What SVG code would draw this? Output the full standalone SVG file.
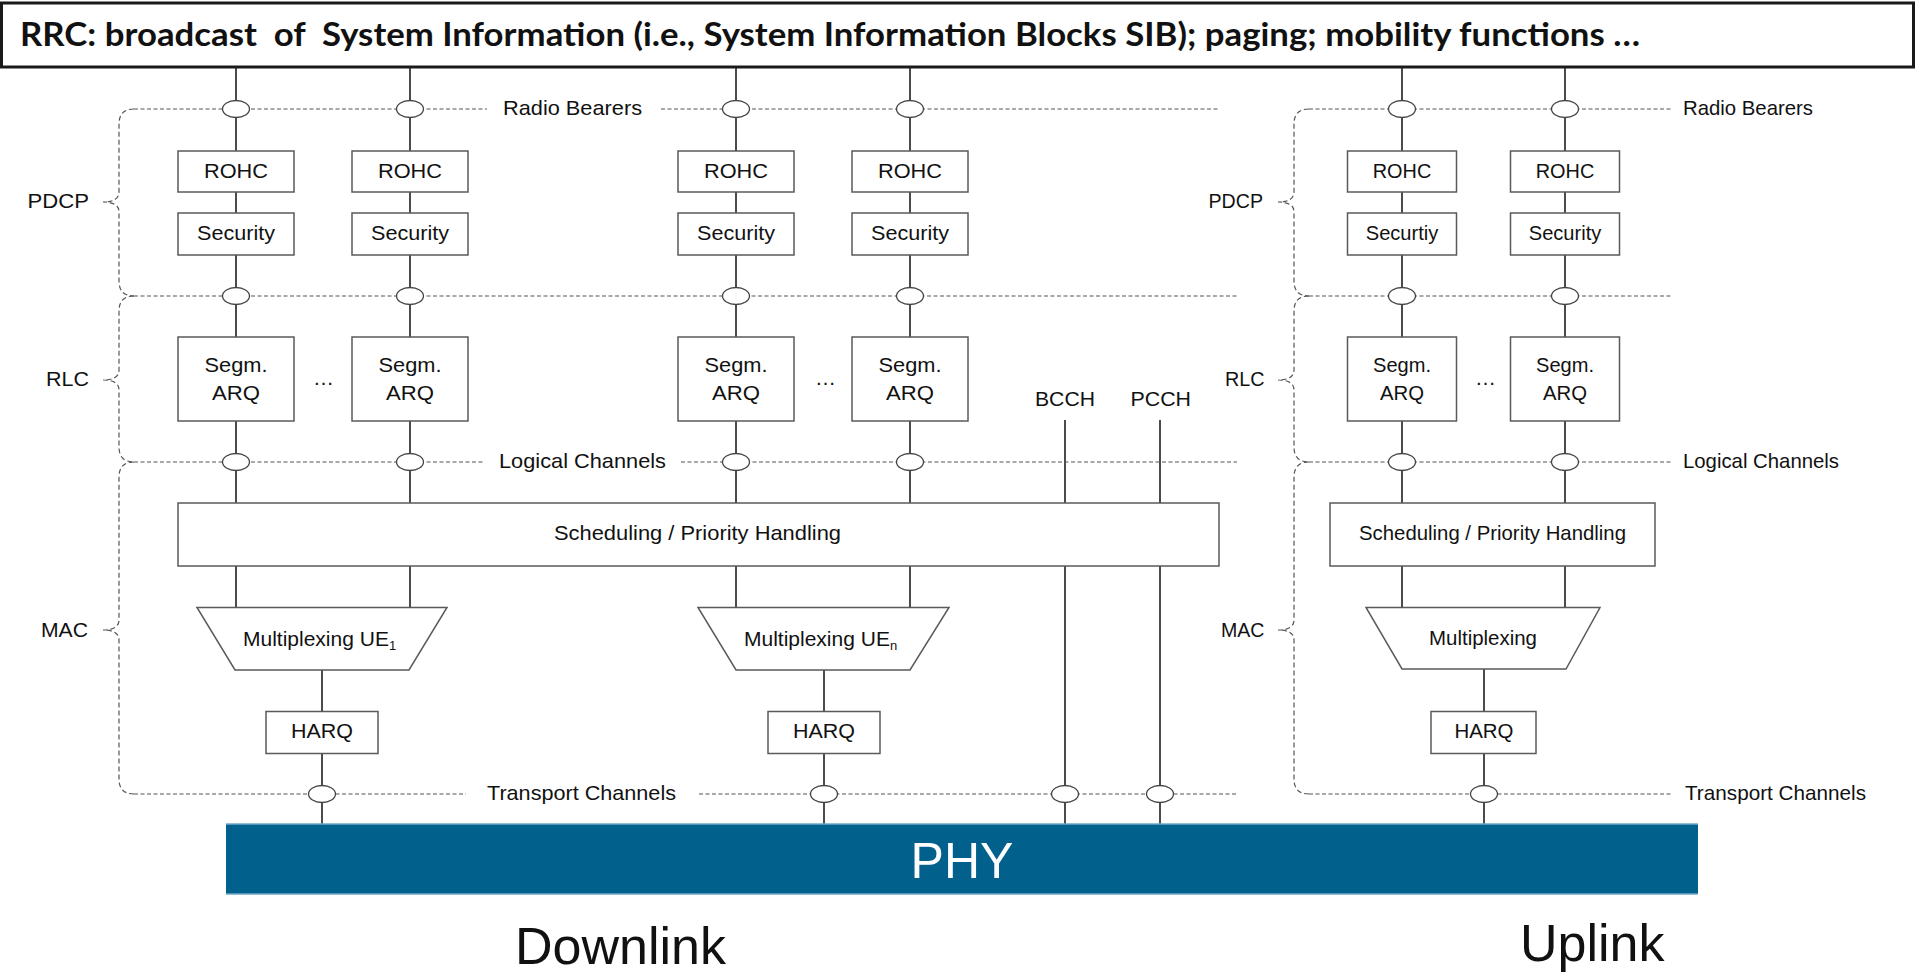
<svg xmlns="http://www.w3.org/2000/svg" width="1915" height="976" viewBox="0 0 1915 976">
<defs>
<style>
.box{fill:#fff;stroke:#5a5a5a;stroke-width:1.5}
.wire{stroke:#1e1e1e;stroke-width:1.6;fill:none}
.dash{stroke:#555;stroke-width:1.2;stroke-dasharray:4 2.5;fill:none}
.brace{stroke:#555;stroke-width:1.2;stroke-dasharray:5 3;fill:none}
.sap{fill:#fff;stroke:#444;stroke-width:1.3}
.t{font-family:"Liberation Sans",Arial,sans-serif;font-size:21px;fill:#111}
.big{font-family:"Liberation Sans",Arial,sans-serif;font-size:52px;fill:#111}
</style>
</defs>
<rect width="1915" height="976" fill="#fff"/>

<g id="rrc">
<rect x="1.5" y="3" width="1912" height="64" fill="#fff" stroke="#1a1a1a" stroke-width="3"/>
<text x="20" y="46" font-family="Lato, 'Open Sans', sans-serif" font-weight="bold" font-size="32" fill="#111" textLength="1620" lengthAdjust="spacingAndGlyphs" style="white-space:pre">RRC: broadcast  of  System Information (i.e., System Information Blocks SIB); paging; mobility functions …</text>
</g>

<g id="connectors">
<line class="wire" x1="236" y1="67" x2="236" y2="608"/>
<line class="wire" x1="410" y1="67" x2="410" y2="608"/>
<line class="wire" x1="736" y1="67" x2="736" y2="608"/>
<line class="wire" x1="910" y1="67" x2="910" y2="608"/>
<line class="wire" x1="1402" y1="67" x2="1402" y2="608"/>
<line class="wire" x1="1565" y1="67" x2="1565" y2="608"/>
<line class="wire" x1="322" y1="670" x2="322" y2="824"/>
<line class="wire" x1="824" y1="670" x2="824" y2="824"/>
<line class="wire" x1="1484" y1="669" x2="1484" y2="824"/>
<line class="wire" x1="1065" y1="420" x2="1065" y2="824"/>
<line class="wire" x1="1160" y1="420" x2="1160" y2="824"/>
<path class="dash" d="M134 109H487M661 109H1219M134 296H1237M134 462H484M681 462H1237M134 794H466M699 794H1237"/>
<path class="dash" d="M1309 109H1672M1309 296H1672M1309 462H1672M1309 794H1671"/>
<path class="brace" d="M134 109Q119 109 119 124L119 192Q119 202 103 202Q119 202 119 212L119 281Q119 296 134 296"/>
<path class="brace" d="M134 296Q119 296 119 311L119 370Q119 380 103 380Q119 380 119 390L119 447Q119 462 134 462"/>
<path class="brace" d="M134 462Q119 462 119 477L119 620Q119 630 103 630Q119 630 119 640L119 779Q119 794 134 794"/>
<path class="brace" d="M1309 109Q1294 109 1294 124L1294 192Q1294 202 1278 202Q1294 202 1294 212L1294 281Q1294 296 1309 296"/>
<path class="brace" d="M1309 296Q1294 296 1294 311L1294 370Q1294 380 1278 380Q1294 380 1294 390L1294 447Q1294 462 1309 462"/>
<path class="brace" d="M1309 462Q1294 462 1294 477L1294 620Q1294 630 1278 630Q1294 630 1294 640L1294 779Q1294 794 1309 794"/>
<g id="saps">
<ellipse class="sap" cx="236" cy="109" rx="13.5" ry="8.5"/><ellipse class="sap" cx="410" cy="109" rx="13.5" ry="8.5"/><ellipse class="sap" cx="736" cy="109" rx="13.5" ry="8.5"/><ellipse class="sap" cx="910" cy="109" rx="13.5" ry="8.5"/><ellipse class="sap" cx="1402" cy="109" rx="13.5" ry="8.5"/><ellipse class="sap" cx="1565" cy="109" rx="13.5" ry="8.5"/>
<ellipse class="sap" cx="236" cy="296" rx="13.5" ry="8.5"/><ellipse class="sap" cx="410" cy="296" rx="13.5" ry="8.5"/><ellipse class="sap" cx="736" cy="296" rx="13.5" ry="8.5"/><ellipse class="sap" cx="910" cy="296" rx="13.5" ry="8.5"/><ellipse class="sap" cx="1402" cy="296" rx="13.5" ry="8.5"/><ellipse class="sap" cx="1565" cy="296" rx="13.5" ry="8.5"/>
<ellipse class="sap" cx="236" cy="462" rx="13.5" ry="8.5"/><ellipse class="sap" cx="410" cy="462" rx="13.5" ry="8.5"/><ellipse class="sap" cx="736" cy="462" rx="13.5" ry="8.5"/><ellipse class="sap" cx="910" cy="462" rx="13.5" ry="8.5"/><ellipse class="sap" cx="1402" cy="462" rx="13.5" ry="8.5"/><ellipse class="sap" cx="1565" cy="462" rx="13.5" ry="8.5"/>
<ellipse class="sap" cx="322" cy="794" rx="13.5" ry="8.5"/><ellipse class="sap" cx="824" cy="794" rx="13.5" ry="8.5"/><ellipse class="sap" cx="1065" cy="794" rx="13.5" ry="8.5"/><ellipse class="sap" cx="1160" cy="794" rx="13.5" ry="8.5"/><ellipse class="sap" cx="1484" cy="794" rx="13.5" ry="8.5"/>
</g>
</g>

<g id="labels">
<text class="t" x="503" y="115" textLength="139" lengthAdjust="spacingAndGlyphs">Radio Bearers</text>
<text class="t" x="1683" y="115" textLength="130" lengthAdjust="spacingAndGlyphs">Radio Bearers</text>
<text class="t" x="499" y="468" textLength="167" lengthAdjust="spacingAndGlyphs">Logical Channels</text>
<text class="t" x="1683" y="468" textLength="156" lengthAdjust="spacingAndGlyphs">Logical Channels</text>
<text class="t" x="487" y="800" textLength="189" lengthAdjust="spacingAndGlyphs">Transport Channels</text>
<text class="t" x="1685" y="800" textLength="181" lengthAdjust="spacingAndGlyphs">Transport Channels</text>
<text class="t" x="27.5" y="208" textLength="61.5" lengthAdjust="spacingAndGlyphs">PDCP</text>
<text class="t" x="1208.5" y="208" textLength="54.5" lengthAdjust="spacingAndGlyphs">PDCP</text>
<text class="t" x="46" y="386" textLength="43" lengthAdjust="spacingAndGlyphs">RLC</text>
<text class="t" x="1225" y="386" textLength="39.5" lengthAdjust="spacingAndGlyphs">RLC</text>
<text class="t" x="41" y="637" textLength="47" lengthAdjust="spacingAndGlyphs">MAC</text>
<text class="t" x="1221" y="637" textLength="43.5" lengthAdjust="spacingAndGlyphs">MAC</text>
<text class="t" x="1035" y="406" textLength="60" lengthAdjust="spacingAndGlyphs">BCCH</text>
<text class="t" x="1130.5" y="406" textLength="60.5" lengthAdjust="spacingAndGlyphs">PCCH</text>
<text class="t" x="313" y="385" font-size="14">…</text>
<text class="t" x="815" y="385" font-size="14">…</text>
<text class="t" x="1475" y="385" font-size="14">…</text>
</g>

<g id="rohc1"><rect class="box" x="178" y="151" width="116" height="41"/><text class="t" x="204" y="178" textLength="64" lengthAdjust="spacingAndGlyphs">ROHC</text></g>
<g id="rohc2"><rect class="box" x="352" y="151" width="116" height="41"/><text class="t" x="378" y="178" textLength="64" lengthAdjust="spacingAndGlyphs">ROHC</text></g>
<g id="rohc3"><rect class="box" x="678" y="151" width="116" height="41"/><text class="t" x="704" y="178" textLength="64" lengthAdjust="spacingAndGlyphs">ROHC</text></g>
<g id="rohc4"><rect class="box" x="852" y="151" width="116" height="41"/><text class="t" x="878" y="178" textLength="64" lengthAdjust="spacingAndGlyphs">ROHC</text></g>
<g id="rohc5"><rect class="box" x="1347.5" y="151" width="109" height="41"/><text class="t" x="1372.75" y="178" textLength="58.5" lengthAdjust="spacingAndGlyphs">ROHC</text></g>
<g id="rohc6"><rect class="box" x="1510.5" y="151" width="109" height="41"/><text class="t" x="1535.75" y="178" textLength="58.5" lengthAdjust="spacingAndGlyphs">ROHC</text></g>

<g id="sec1"><rect class="box" x="178" y="213" width="116" height="42"/><text class="t" x="197" y="240" textLength="78" lengthAdjust="spacingAndGlyphs">Security</text></g>
<g id="sec2"><rect class="box" x="352" y="213" width="116" height="42"/><text class="t" x="371" y="240" textLength="78" lengthAdjust="spacingAndGlyphs">Security</text></g>
<g id="sec3"><rect class="box" x="678" y="213" width="116" height="42"/><text class="t" x="697" y="240" textLength="78" lengthAdjust="spacingAndGlyphs">Security</text></g>
<g id="sec4"><rect class="box" x="852" y="213" width="116" height="42"/><text class="t" x="871" y="240" textLength="78" lengthAdjust="spacingAndGlyphs">Security</text></g>
<g id="sec5"><rect class="box" x="1347.5" y="213" width="109" height="42"/><text class="t" x="1365.75" y="240" textLength="72.5" lengthAdjust="spacingAndGlyphs">Securtiy</text></g>
<g id="sec6"><rect class="box" x="1510.5" y="213" width="109" height="42"/><text class="t" x="1528.75" y="240" textLength="72.5" lengthAdjust="spacingAndGlyphs">Security</text></g>

<g id="rlc1"><rect class="box" x="178" y="337" width="116" height="84"/><text class="t" x="204.5" y="372" textLength="63" lengthAdjust="spacingAndGlyphs">Segm.</text><text class="t" x="212" y="400" textLength="48" lengthAdjust="spacingAndGlyphs">ARQ</text></g>
<g id="rlc2"><rect class="box" x="352" y="337" width="116" height="84"/><text class="t" x="378.5" y="372" textLength="63" lengthAdjust="spacingAndGlyphs">Segm.</text><text class="t" x="386" y="400" textLength="48" lengthAdjust="spacingAndGlyphs">ARQ</text></g>
<g id="rlc3"><rect class="box" x="678" y="337" width="116" height="84"/><text class="t" x="704.5" y="372" textLength="63" lengthAdjust="spacingAndGlyphs">Segm.</text><text class="t" x="712" y="400" textLength="48" lengthAdjust="spacingAndGlyphs">ARQ</text></g>
<g id="rlc4"><rect class="box" x="852" y="337" width="116" height="84"/><text class="t" x="878.5" y="372" textLength="63" lengthAdjust="spacingAndGlyphs">Segm.</text><text class="t" x="886" y="400" textLength="48" lengthAdjust="spacingAndGlyphs">ARQ</text></g>
<g id="rlc5"><rect class="box" x="1347.5" y="337" width="109" height="84"/><text class="t" x="1373" y="372" textLength="58" lengthAdjust="spacingAndGlyphs">Segm.</text><text class="t" x="1380" y="400" textLength="44" lengthAdjust="spacingAndGlyphs">ARQ</text></g>
<g id="rlc6"><rect class="box" x="1510.5" y="337" width="109" height="84"/><text class="t" x="1536" y="372" textLength="58" lengthAdjust="spacingAndGlyphs">Segm.</text><text class="t" x="1543" y="400" textLength="44" lengthAdjust="spacingAndGlyphs">ARQ</text></g>

<g id="sched-dl"><rect class="box" x="178" y="503" width="1041" height="63"/><text class="t" x="554" y="540" textLength="287" lengthAdjust="spacingAndGlyphs">Scheduling / Priority Handling</text></g>
<g id="sched-ul"><rect class="box" x="1330" y="503" width="325" height="63"/><text class="t" x="1359" y="540" textLength="267" lengthAdjust="spacingAndGlyphs">Scheduling / Priority Handling</text></g>

<g id="mux1"><polygon class="box" points="197,607.5 447,607.5 409,670 235,670"/><text class="t" x="243" y="646" font-size="21.5">Multiplexing UE<tspan font-size="13" dy="4">1</tspan></text></g>
<g id="muxn"><polygon class="box" points="698,607.5 949,607.5 910,670 736,670"/><text class="t" x="744" y="646" font-size="21.5">Multiplexing UE<tspan font-size="13" dy="4">n</tspan></text></g>
<g id="muxul"><polygon class="box" points="1366,607.5 1600,607.5 1566,669 1402,669"/><text class="t" x="1429" y="645" textLength="108" lengthAdjust="spacingAndGlyphs">Multiplexing</text></g>

<g id="harq1"><rect class="box" x="266" y="711.5" width="112" height="42"/><text class="t" x="291" y="738" textLength="62" lengthAdjust="spacingAndGlyphs">HARQ</text></g>
<g id="harq2"><rect class="box" x="768" y="711.5" width="112" height="42"/><text class="t" x="793" y="738" textLength="62" lengthAdjust="spacingAndGlyphs">HARQ</text></g>
<g id="harq3"><rect class="box" x="1431" y="711.5" width="105" height="42"/><text class="t" x="1454.5" y="738" textLength="59" lengthAdjust="spacingAndGlyphs">HARQ</text></g>

<g id="phy">
<rect x="226" y="824" width="1472" height="70" fill="#02618c"/>
<line x1="226" y1="824" x2="1698" y2="824" stroke="#6fa9c9" stroke-width="1.5"/>
<line x1="226" y1="894" x2="1698" y2="894" stroke="#6fa9c9" stroke-width="1.5"/>
<text x="962" y="878" text-anchor="middle" font-family="'Liberation Sans', Arial, sans-serif" font-size="50" fill="#fff">PHY</text>
</g>

<g id="directions">
<text class="big" x="515" y="964">Downlink</text>
<text class="big" x="1520" y="961">Uplink</text>
</g>
</svg>
